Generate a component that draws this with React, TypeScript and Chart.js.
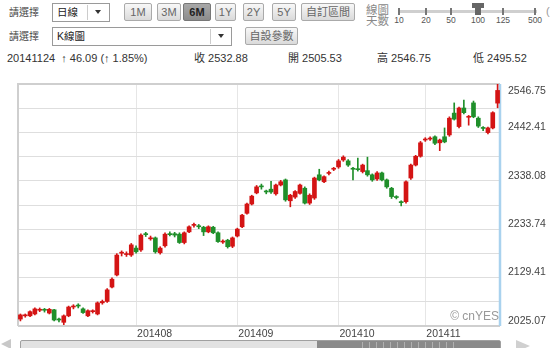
import React, { useEffect, useRef } from "react";
import { Chart, registerables } from "chart.js";

Chart.register(...registerables);

// ---- DATA ----
const dates = [
  "20140630",
  "20140701", "20140702", "20140703", "20140704", "20140707", "20140708", "20140709", "20140710", "20140711",
  "20140714", "20140715", "20140716", "20140717", "20140718", "20140721", "20140722", "20140723", "20140724",
  "20140725", "20140728", "20140729", "20140730", "20140731",
  "20140801", "20140804", "20140805", "20140806", "20140807", "20140808", "20140811", "20140812", "20140813",
  "20140814", "20140815", "20140818", "20140819", "20140820", "20140821", "20140822", "20140825", "20140826",
  "20140827", "20140828", "20140829",
  "20140901", "20140902", "20140903", "20140904", "20140905", "20140909", "20140910", "20140911", "20140912",
  "20140915", "20140916", "20140917", "20140918", "20140919", "20140922", "20140923", "20140924", "20140925",
  "20140926", "20140929", "20140930",
  "20141008", "20141009", "20141010", "20141013", "20141014", "20141015", "20141016", "20141017", "20141020",
  "20141021", "20141022", "20141023", "20141024", "20141027", "20141028", "20141029", "20141030", "20141031",
  "20141103", "20141104", "20141105", "20141106", "20141107", "20141110", "20141111", "20141112", "20141113",
  "20141114", "20141117", "20141118", "20141119", "20141120", "20141121", "20141124",
];

const opens = [
  2040, 2047, 2047, 2051, 2059, 2060, 2053, 2060, 2039, 2033,
  2047, 2066, 2069, 2062, 2047, 2056, 2051, 2075, 2078, 2109,
  2135, 2182, 2179, 2178, 2193, 2189, 2224, 2213, 2215, 2183,
  2198, 2224, 2224, 2223, 2205, 2228, 2242, 2240, 2238, 2228,
  2238, 2226, 2206, 2210, 2197, 2219, 2239, 2268, 2288, 2312,
  2326, 2315, 2320, 2310, 2329, 2340, 2295, 2303, 2311, 2322,
  2290, 2301, 2351, 2336, 2354, 2363, 2368, 2383, 2381, 2364,
  2364, 2358, 2360, 2351, 2342, 2355, 2340, 2322, 2303, 2292,
  2293, 2344, 2372, 2391, 2426, 2428, 2433, 2420, 2433, 2437,
  2484, 2455, 2495, 2475, 2506, 2473, 2452, 2442, 2452, 2505.53,
];
const highs = [
  2051, 2051, 2058, 2064, 2064, 2063, 2063, 2061, 2042, 2049,
  2068, 2071, 2073, 2064, 2060, 2060, 2077, 2081, 2106, 2129,
  2181, 2187, 2185, 2203, 2198, 2224, 2227, 2219, 2217, 2196,
  2226, 2228, 2227, 2226, 2228, 2241, 2247, 2244, 2240, 2241,
  2240, 2228, 2211, 2212, 2217, 2236, 2266, 2290, 2307, 2328,
  2331, 2318, 2337, 2331, 2339, 2342, 2309, 2317, 2331, 2325,
  2310, 2346, 2363, 2349, 2359, 2367, 2384, 2392, 2384, 2367,
  2387, 2374, 2389, 2353, 2358, 2357, 2342, 2324, 2306, 2295,
  2338, 2374, 2393, 2423, 2431, 2433, 2435, 2428, 2452, 2476,
  2506, 2497, 2512, 2479, 2510, 2476, 2455, 2454, 2487, 2546.75,
];
const lows = [
  2036, 2044, 2045, 2049, 2056, 2055, 2051, 2036, 2034, 2028,
  2045, 2062, 2064, 2052, 2045, 2053, 2049, 2072, 2076, 2107,
  2133, 2176, 2175, 2175, 2182, 2186, 2218, 2210, 2182, 2180,
  2195, 2219, 2217, 2203, 2202, 2226, 2238, 2235, 2220, 2226,
  2224, 2205, 2203, 2193, 2194, 2217, 2237, 2266, 2286, 2310,
  2320, 2310, 2311, 2307, 2327, 2294, 2282, 2300, 2309, 2288,
  2287, 2298, 2338, 2334, 2351, 2360, 2365, 2380, 2369, 2340,
  2359, 2355, 2348, 2337, 2339, 2338, 2322, 2300, 2299, 2284,
  2290, 2341, 2370, 2389, 2423, 2425, 2416, 2403, 2420, 2434,
  2469, 2452, 2482, 2458, 2474, 2453, 2446, 2439, 2450, 2495.52,
];
const closes = [
  2049, 2048, 2056, 2062, 2060, 2059, 2061, 2038, 2038, 2047,
  2066, 2067, 2068, 2054, 2058, 2057, 2075, 2078, 2103, 2126,
  2178, 2183, 2181, 2200, 2185, 2221, 2222, 2215, 2185, 2193,
  2223, 2222, 2221, 2205, 2226, 2239, 2243, 2239, 2228, 2239,
  2226, 2207, 2207, 2196, 2215, 2234, 2264, 2288, 2305, 2325,
  2325, 2314, 2314, 2329, 2336, 2297, 2307, 2315, 2329, 2290,
  2307, 2344, 2340, 2347, 2356, 2364, 2381, 2389, 2372, 2363,
  2362, 2372, 2351, 2340, 2355, 2340, 2325, 2304, 2302, 2291,
  2336, 2372, 2391, 2420, 2428, 2430, 2419, 2426, 2422, 2473,
  2471, 2495, 2485, 2476, 2476, 2456, 2451, 2452, 2485, 2532.88,
];

const yMin = 2025.07;
const yMax = 2546.75;
const yTickValues = [2546.75, 2442.41, 2338.08, 2233.74, 2129.41, 2025.07];
const yTickLabels = ["2546.75", "2442.41", "2338.08", "2233.74", "2129.41", "2025.07"];
const monthLabels = ["201408", "201409", "201410", "201411"];

const RED = "#d41414";
const GREEN = "#1f8f2a";
const FONT = '"Liberation Sans", Arial, "Noto Sans CJK TC", sans-serif';

// ---- CHART ----
function CandleChart() {
  const ref = useRef<HTMLCanvasElement>(null);
  useEffect(() => {
    const canvas = ref.current;
    if (!canvas) return;
    const colors = closes.map((c, i) => (c >= opens[i] ? RED : GREEN));
    const monthStarts: number[] = [];
    dates.forEach((d, i) => {
      if (i > 0 && d.slice(0, 6) !== dates[i - 1].slice(0, 6) && monthLabels.includes(d.slice(0, 6))) monthStarts.push(i);
    });

    const overlay = {
      id: "overlay",
      beforeDatasetsDraw(chart: any) {
        const { ctx, chartArea: a } = chart;
        ctx.save();
        ctx.strokeStyle = "#cfcfcf";
        ctx.lineWidth = 2;
        ctx.beginPath();
        ctx.moveTo(a.left, a.bottom);
        ctx.lineTo(a.left, a.top);
        ctx.lineTo(a.right, a.top);
        ctx.moveTo(a.left, a.bottom);
        ctx.lineTo(a.right, a.bottom);
        ctx.stroke();
        ctx.strokeStyle = "#a9d2ee";
        ctx.lineWidth = 2.5;
        ctx.beginPath();
        ctx.moveTo(a.right, a.top);
        ctx.lineTo(a.right, a.bottom);
        ctx.stroke();
        ctx.restore();
      },
      afterDraw(chart: any) {
        const { ctx, chartArea: a, scales } = chart;
        ctx.save();
        ctx.font = "10.5px " + FONT;
        ctx.fillStyle = "#444";
        ctx.textBaseline = "middle";
        ctx.textAlign = "left";
        yTickValues.forEach((v, i) => {
          const py = scales.y.getPixelForValue(v);
          const ty = Math.max(py - 5, a.top + 7);
          ctx.fillText(yTickLabels[i], a.right + 8, ty);
        });
        monthStarts.forEach((i) => {
          const px = scales.x.getPixelForValue(i);
          ctx.fillText(dates[i].slice(0, 6), px + 1, a.bottom + 8);
        });
        ctx.font = "12px " + FONT;
        ctx.fillStyle = "#999";
        ctx.textAlign = "right";
        ctx.fillText("\u00A9 cnYES", a.right - 1, a.bottom - 9);
        ctx.restore();
      },
    };

    const chart = new Chart(canvas, {
      type: "bar",
      data: {
        labels: dates,
        datasets: [
          {
            label: "body",
            data: opens.map((o, i) => [o, closes[i]]) as any,
            backgroundColor: colors,
            barThickness: 4,
            minBarLength: 1,
            grouped: false,
            order: 0,
          } as any,
          {
            label: "wick",
            data: lows.map((l, i) => [l, highs[i]]) as any,
            backgroundColor: colors,
            barThickness: 1,
            grouped: false,
            order: 1,
          } as any,
        ],
      },
      options: {
        animation: false,
        responsive: false,
        devicePixelRatio: 1,
        layout: { padding: { left: 18, top: 14, right: 53, bottom: 22 } },
        plugins: { legend: { display: false }, tooltip: { enabled: false } },
        scales: {
          x: {
            type: "category",
            offset: true,
            ticks: { display: false, autoSkip: false },
            border: { display: false },
            grid: {
              offset: false,
              drawTicks: false,
              color: (ctx: any) => (monthStarts.includes(ctx.index) ? "#e6e6e6" : "rgba(0,0,0,0)"),
              lineWidth: 1,
            },
          },
          y: {
            type: "linear",
            min: yMin,
            max: yMax,
            ticks: { display: false },
            border: { display: false },
            grid: { drawTicks: false, color: "#dedede", lineWidth: 1 },
            afterBuildTicks: (scale: any) => {
              const step = (yMax - yMin) / 10;
              const t = [];
              for (let k = 0; k <= 10; k++) t.push({ value: yMin + k * step });
              scale.ticks = t;
            },
          },
        },
      },
      plugins: [overlay],
    });
    return () => chart.destroy();
  }, []);
  return (
    <canvas
      ref={ref}
      width={553}
      height={278}
      style={{ position: "absolute", left: 0, top: 70, width: 553, height: 278 }}
    />
  );
}

// ---- UI pieces ----
function Txt(props: any) {
  const { x, y, size = 11, color = "#333", children, style } = props;
  return (
    <div
      style={{
        position: "absolute",
        left: x,
        top: y,
        fontSize: size,
        color,
        lineHeight: 1,
        whiteSpace: "nowrap",
        ...style,
      }}
    >
      {children}
    </div>
  );
}

function Btn(props: any) {
  const { x, w, y = 3, h = 18, label, active } = props;
  return (
    <div
      style={{
        position: "absolute",
        left: x,
        top: y,
        width: w,
        height: h,
        boxSizing: "border-box",
        border: "1px solid " + (active ? "#777" : "#aaa"),
        borderRadius: 2,
        background: active
          ? "linear-gradient(#a8a8a8, #8c8c8c)"
          : "linear-gradient(#f8f8f8, #dadada)",
        color: active ? "#222" : "#666",
        fontWeight: active ? "bold" : "normal",
        fontSize: 11,
        lineHeight: h - 2 + "px",
        textAlign: "center",
        whiteSpace: "nowrap",
      }}
    >
      {label}
    </div>
  );
}

function Select(props: any) {
  const { x, y, w, h = 19, label, sep } = props;
  return (
    <div
      style={{
        position: "absolute",
        left: x,
        top: y,
        width: w,
        height: h,
        boxSizing: "border-box",
        border: "1px solid #9a9a9a",
        background: "#fff",
      }}
    >
      <div style={{ position: "absolute", left: 4, top: 3, fontSize: 10.5, lineHeight: 1, color: "#222" }}>{label}</div>
      <div style={{ position: "absolute", left: sep, top: 1, width: 1, height: h - 4, background: "#ccc" }} />
      <div
        style={{
          position: "absolute",
          left: sep + (w - sep) / 2 - 4,
          top: 6,
          width: 0,
          height: 0,
          borderLeft: "3.5px solid transparent",
          borderRight: "3.5px solid transparent",
          borderTop: "4px solid #333",
        }}
      />
    </div>
  );
}

const sliderTicks = [
  { x: 399, label: "10" },
  { x: 426, label: "20" },
  { x: 451, label: "50" },
  { x: 478, label: "100" },
  { x: 503, label: "125" },
  { x: 535, label: "500" },
];

export default function App() {
  return (
    <div
      style={{
        position: "absolute",
        left: 0,
        top: 0,
        width: 553,
        height: 348,
        overflow: "hidden",
        background: "#fff",
        fontFamily: FONT,
      }}
    >
      {/* row 1 */}
      <Txt x={9} y={7.5} size={10} color="#444">請選擇</Txt>
      <Select x={52} y={3} w={58} label="日線" sep={34} />
      <Btn x={124} w={28} label="1M" />
      <Btn x={157} w={24} label="3M" />
      <Btn x={183} w={28} label="6M" active />
      <Btn x={215} w={21} label="1Y" />
      <Btn x={243} w={21} label="2Y" />
      <Btn x={272} w={24} label="5Y" />
      <Btn x={301} w={54} label="自訂區間" />
      <Txt x={366} y={5} size={11.5} color="#888">線圖</Txt>
      <Txt x={366} y={16} size={11.5} color="#888">天數</Txt>
      <div style={{ position: "absolute", left: 398, top: 10, width: 139, height: 3, background: "#cfcfcf" }} />
      {sliderTicks.map((t) =>
        t.label === "100" ? null : (
          <div key={"tk" + t.label} style={{ position: "absolute", left: t.x - 1, top: 8, width: 2, height: 7, background: "#777" }} />
        )
      )}
      {sliderTicks.map((t) => (
        <Txt key={"tl" + t.label} x={t.x - 12} y={16} size={8.5} color="#555" style={{ width: 24, textAlign: "center" }}>
          {t.label}
        </Txt>
      ))}
      <div style={{ position: "absolute", left: 472, top: 3, width: 12, height: 5, background: "#666" }} />
      <div style={{ position: "absolute", left: 475, top: 7, width: 6, height: 8, background: "#666" }} />
      <Txt x={546} y={6} size={11} color="#999">(</Txt>

      {/* row 2 */}
      <Txt x={9} y={31.5} size={10} color="#444">請選擇</Txt>
      <Select x={52} y={27} w={180} label="K線圖" sep={157} />
      <Btn x={245} y={27} w={53} h={18} label="自設參數" />

      {/* row 3 */}
      <Txt x={7} y={52.5} size={11} color="#333">20141124 &nbsp;↑ 46.09 (↑ 1.85%)</Txt>
      <Txt x={194} y={52.5} size={11} color="#333">收 2532.88</Txt>
      <Txt x={288} y={52.5} size={11} color="#333">開 2505.53</Txt>
      <Txt x={377} y={52.5} size={11} color="#333">高 2546.75</Txt>
      <Txt x={473} y={52.5} size={11} color="#333">低 2495.52</Txt>

      <CandleChart />

      {/* scrollbar */}
      <div
        style={{
          position: "absolute",
          left: 1,
          top: 339,
          width: 0,
          height: 0,
          borderTop: "5px solid transparent",
          borderBottom: "5px solid transparent",
          borderRight: "10px solid #c8c8c8",
        }}
      />
      <div
        style={{
          position: "absolute",
          left: 20,
          top: 340,
          width: 481,
          height: 12,
          boxSizing: "border-box",
          border: "1px solid #a0a0a0",
          borderRadius: 2,
          background: "#e2e2e2",
        }}
      />
      <div style={{ position: "absolute", left: 317, top: 341, width: 183, height: 10, background: "#8a8a8a" }} />
      <div
        style={{
          position: "absolute",
          left: 362,
          top: 342,
          width: 94,
          height: 8,
          background: "repeating-linear-gradient(90deg, #b0b0b0 0px, #b0b0b0 1px, transparent 1px, transparent 7px)",
        }}
      />
      <div
        style={{
          position: "absolute",
          left: 516,
          top: 340,
          width: 0,
          height: 0,
          borderTop: "6px solid transparent",
          borderBottom: "6px solid transparent",
          borderLeft: "14px solid #d0d0d0",
        }}
      />
    </div>
  );
}
